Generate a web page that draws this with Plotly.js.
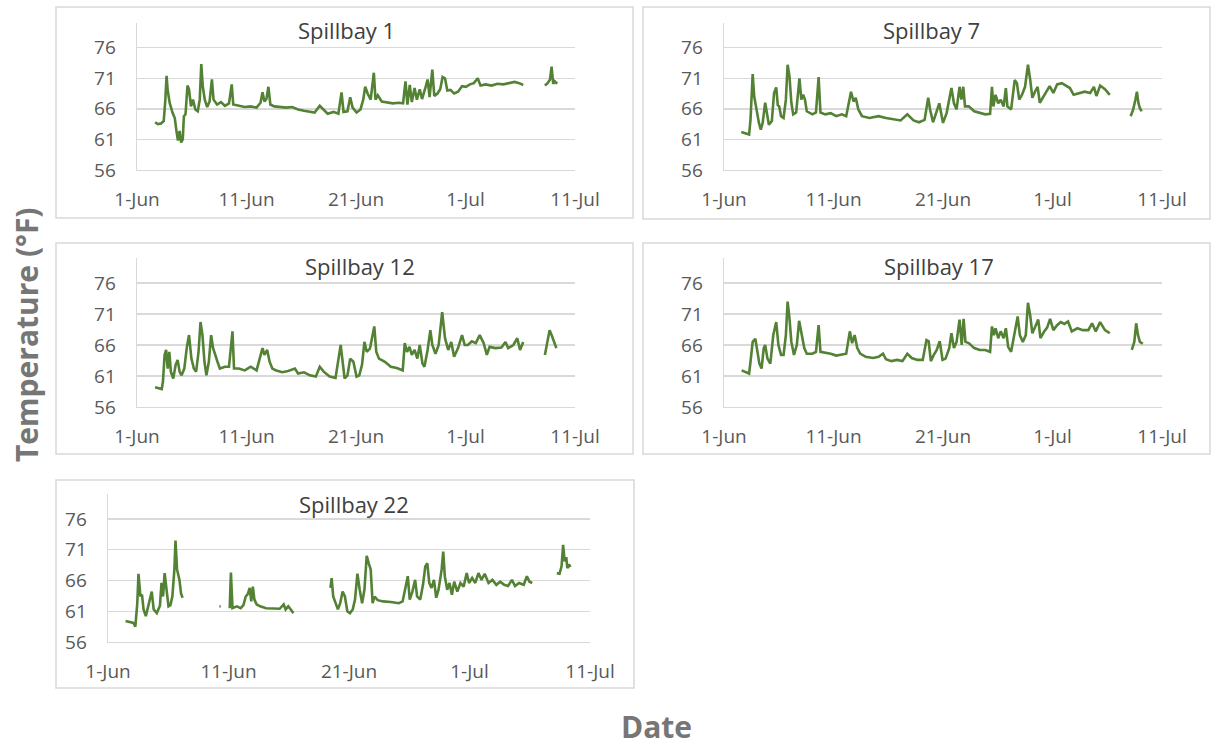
<!DOCTYPE html>
<html><head><meta charset="utf-8">
<script src="https://cdn.plot.ly/plotly-3.0.1.min.js"></script>
<style>html,body{margin:0;padding:0;background:#fff}#chart{width:1213px;height:749px}</style>
</head><body><div id="chart"></div>
<script>
// ---------- DATA (days since 1-Jun, temperature °F) ----------
const panelTitles = ["Spillbay 1", "Spillbay 7", "Spillbay 12", "Spillbay 17", "Spillbay 22"];
const xTickVals = [0, 10, 20, 30, 40];
const xTickText = ["1-Jun", "11-Jun", "21-Jun", "1-Jul", "11-Jul"];
const yTickVals = [56, 61, 66, 71, 76];
const yAxisTitle = "Temperature (°F)";
const xAxisTitle = "Date";

const sb1Day = [1.65,1.90,2.19,2.44,2.59,2.70,2.80,2.98,3.24,3.45,3.60,3.74,3.89,4.03,4.18,4.28,4.43,4.61,4.75,4.93,5.11,5.33,5.55,5.73,5.87,6.01,6.19,6.41,6.63,6.84,6.99,7.31,7.67,8.03,8.40,8.65,8.79,9.30,9.84,10.38,10.92,11.28,11.46,11.64,11.82,12.00,12.18,12.54,13.08,13.63,14.17,14.71,15.25,15.79,16.22,16.69,17.05,17.41,17.95,18.39,18.68,18.86,19.22,19.47,19.69,20.05,20.41,20.66,20.84,21.06,21.34,21.63,21.78,21.99,22.35,22.82,23.36,23.91,24.30,24.52,24.70,24.91,25.10,25.35,25.56,25.82,26.03,26.36,26.54,26.72,26.97,27.15,27.44,27.69,27.91,28.13,28.34,28.63,28.96,29.32,29.68,30.04,30.40,30.76,31.12,31.37,31.84,32.38,32.92,33.46,34.00,34.47,34.91,35.27,36.3,37.25,37.50,37.72,37.86,38.01,38.15,38.37];
const sb1Temp = [63.8,63.5,63.6,64.0,67.5,71.4,69.1,67.0,65.4,64.5,62.4,60.8,62.4,60.5,61.0,64.8,65.1,69.8,69.2,66.4,67.5,65.9,65.6,67.5,73.3,69.6,67.5,66.3,67.2,70.8,67.5,66.7,67.1,66.5,66.9,70.0,66.7,66.5,66.3,66.4,66.2,67.0,68.7,67.2,67.6,69.6,66.7,66.4,66.3,66.2,66.3,65.9,65.7,65.5,65.4,66.5,65.9,65.2,65.5,65.2,68.7,65.5,65.6,67.9,66.2,65.4,65.9,67.5,69.6,68.5,67.5,71.9,67.5,68.2,67.2,67.1,66.9,67.0,66.9,70.5,66.7,69.9,67.1,69.4,67.5,69.2,67.6,69.6,70.8,67.9,72.4,68.1,68.5,69.2,71.2,71.0,69.0,69.1,68.5,68.8,69.7,69.6,70.0,70.2,71.0,69.8,70.0,69.8,70.1,70.0,70.2,70.4,70.2,69.9,null,69.8,70.2,70.8,72.9,70.1,70.5,70.1];

const sb7Day = [1.58,1.95,2.29,2.42,2.62,2.76,2.96,3.19,3.36,3.53,3.76,3.90,4.10,4.37,4.57,4.77,4.91,5.04,5.21,5.44,5.65,5.81,5.98,6.15,6.32,6.59,6.76,6.89,7.06,7.23,7.39,7.49,7.56,8.07,8.40,8.64,8.81,9.24,9.75,10.25,10.76,11.16,11.43,11.60,11.83,12.03,12.27,12.60,13.28,14.12,14.79,15.46,16.13,16.74,17.31,17.81,18.32,18.65,18.82,19.09,19.33,19.66,20.00,20.33,20.77,21.00,21.24,21.51,21.68,21.85,22.01,22.35,22.85,23.36,23.86,24.30,24.47,24.60,24.80,25.04,25.27,25.54,25.74,25.88,26.22,26.55,26.75,26.96,27.22,27.49,27.76,27.96,28.16,28.40,28.64,28.84,29.10,29.41,29.74,30.08,30.42,30.85,31.26,31.59,31.93,32.43,32.94,33.44,33.78,34.01,34.35,34.79,35.23,36.2,37.14,37.37,37.57,37.71,37.85,37.98,38.15];
const sb7Temp = [62.2,62.0,61.8,64.2,71.7,68.0,65.9,63.7,62.6,63.7,67.0,65.4,63.4,64.0,68.6,69.5,66.6,66.4,64.8,64.5,67.5,73.2,71.3,67.0,65.1,65.4,68.6,71.0,67.5,68.3,67.5,65.9,65.6,65.1,65.4,71.2,65.4,65.1,65.3,64.8,65.1,64.8,67.5,68.8,67.2,67.8,65.9,64.8,64.5,64.8,64.5,64.3,64.1,65.1,64.1,63.8,64.2,67.8,65.9,63.8,65.1,66.9,63.7,65.3,69.4,66.9,65.9,69.6,67.5,69.6,66.4,66.4,65.6,65.3,65.1,65.2,69.6,66.4,68.3,66.9,67.5,66.4,69.4,66.4,65.9,70.7,70.2,67.5,68.3,69.6,73.2,70.8,67.8,68.8,69.6,67.0,67.8,68.8,69.7,68.6,70.0,70.2,69.7,69.4,68.3,68.6,68.8,68.6,69.6,68.1,69.8,69.2,68.3,null,64.8,65.9,67.5,68.8,66.9,66.1,65.6];

const sb12Day = [1.65,2.26,2.37,2.52,2.66,2.80,2.95,3.09,3.31,3.53,3.71,3.89,4.07,4.32,4.54,4.75,4.97,5.19,5.40,5.62,5.80,5.98,6.16,6.34,6.56,6.77,6.95,7.13,7.35,7.57,8.03,8.40,8.61,8.72,8.86,9.30,9.84,10.38,10.92,11.46,11.64,11.89,12.11,12.36,12.72,13.26,13.81,14.42,14.71,15.25,15.79,16.33,16.69,17.05,17.59,18.13,18.60,18.78,18.96,19.22,19.47,19.76,20.05,20.30,20.55,20.77,20.98,21.27,21.49,21.67,21.85,22.10,22.64,23.18,23.73,24.27,24.45,24.66,24.88,25.10,25.35,25.60,25.82,26.07,26.25,26.54,26.79,26.97,27.26,27.55,27.87,28.13,28.42,28.70,28.96,29.32,29.68,29.93,30.22,30.58,30.94,31.30,31.66,31.95,32.20,32.74,33.28,33.65,33.90,34.37,34.73,34.98,35.27,36.3,37.25,37.50,37.68,37.86,38.08,38.30];
const sb12Temp = [59.2,58.9,60.1,64.4,65.2,62.2,64.9,61.7,60.6,62.8,63.6,61.7,61.1,62.2,65.5,67.6,63.8,62.2,61.7,64.9,69.7,67.6,63.3,61.1,63.3,67.6,65.5,64.4,63.3,62.2,62.5,62.5,66.5,68.2,62.2,62.2,61.9,62.5,61.9,65.5,64.4,65.2,63.3,62.2,61.9,61.6,61.8,62.2,61.4,61.6,61.1,60.9,62.5,61.7,60.9,60.7,66.0,63.3,60.6,61.1,63.8,63.3,60.9,61.1,62.8,66.5,64.9,65.4,67.6,69.0,64.9,63.8,63.3,62.5,62.3,61.9,66.3,64.9,65.7,64.4,65.2,63.8,66.0,63.0,62.5,65.2,68.4,66.0,64.6,66.0,71.3,67.1,65.2,66.5,64.1,65.5,67.6,66.0,66.0,66.6,66.3,67.6,66.3,64.4,65.7,65.5,65.6,66.5,65.5,66.0,67.1,65.2,66.5,null,64.4,66.5,68.4,67.6,66.5,65.5];

const sb17Day = [1.61,2.02,2.29,2.42,2.62,2.86,3.02,3.23,3.43,3.63,3.76,3.97,4.23,4.50,4.77,4.97,5.21,5.44,5.65,5.81,5.98,6.15,6.39,6.65,6.86,6.99,7.13,7.33,7.56,8.07,8.40,8.64,8.81,9.24,9.75,10.25,10.76,11.16,11.49,11.70,11.93,12.17,12.44,12.94,13.61,14.12,14.52,14.79,15.29,15.80,16.30,16.74,17.14,17.65,18.15,18.49,18.69,18.89,19.16,19.43,19.70,19.96,20.23,20.57,20.77,21.00,21.24,21.51,21.71,21.88,22.05,22.35,22.85,23.36,23.86,24.30,24.47,24.64,24.80,25.04,25.27,25.54,25.74,25.95,26.22,26.55,26.82,27.02,27.29,27.56,27.76,27.96,28.16,28.43,28.70,28.90,29.24,29.51,29.78,30.08,30.42,30.75,31.09,31.42,31.76,32.27,32.77,33.27,33.61,33.95,34.35,34.79,35.23,36.2,37.24,37.47,37.64,37.81,37.98,38.25];
const sb17Temp = [61.9,61.6,61.4,63.3,66.5,67.0,64.9,63.0,62.2,65.5,66.0,63.8,63.0,67.6,69.7,66.0,64.4,64.4,67.6,73.0,70.3,66.5,64.4,66.0,69.9,68.7,67.6,65.5,64.6,64.6,64.9,69.2,64.9,64.8,64.6,64.3,64.4,64.6,68.2,66.3,67.6,65.5,64.6,64.1,63.9,64.1,64.6,63.7,63.4,63.6,63.4,64.6,63.9,63.6,63.6,66.8,66.6,63.4,64.4,65.2,66.6,63.6,63.8,65.5,67.9,65.5,66.5,70.1,66.0,70.2,66.5,66.3,65.5,65.2,65.2,64.9,69.0,67.6,68.7,67.1,68.2,67.1,68.7,65.7,64.9,68.2,70.6,67.6,66.5,67.6,72.8,70.8,67.9,69.0,70.1,67.1,68.2,68.8,70.2,68.4,69.2,69.7,69.4,69.8,68.2,68.7,68.4,68.4,69.5,68.2,69.7,68.4,67.9,null,65.2,66.5,69.5,67.6,66.5,66.2];

const sb22Day = [1.46,2.11,2.27,2.43,2.53,2.69,2.82,2.95,3.14,3.34,3.50,3.63,3.79,4.05,4.31,4.44,4.57,4.70,4.86,5.02,5.18,5.34,5.51,5.60,5.73,5.93,6.06,6.19,7.5,9.25,9.35,9.6,10.10,10.20,10.33,10.69,11.01,11.24,11.43,11.60,11.76,11.89,12.02,12.15,12.34,12.63,13.12,13.77,14.25,14.58,14.74,14.96,15.22,15.39,17.0,18.46,18.56,18.69,18.88,19.08,19.27,19.47,19.66,19.86,20.08,20.31,20.50,20.70,20.89,21.09,21.28,21.47,21.64,21.80,21.96,22.12,22.38,22.84,23.48,24.13,24.45,24.71,24.88,25.04,25.26,25.49,25.65,25.91,26.14,26.33,26.50,26.66,26.85,27.05,27.24,27.43,27.69,27.82,27.95,28.15,28.34,28.54,28.73,28.99,29.25,29.51,29.77,29.96,30.22,30.48,30.74,31.00,31.26,31.58,31.90,32.23,32.55,32.88,33.20,33.52,33.78,34.11,34.50,34.76,34.98,35.21,36.3,37.25,37.47,37.64,37.77,37.90,38.03,38.12,38.25,38.38];
const sb22Temp = [59.4,59.1,58.5,62.3,67.1,63.4,63.7,61.3,60.2,61.9,63.4,64.2,61.3,60.7,61.9,65.6,63.4,67.2,64.5,61.8,62.0,63.4,67.8,72.5,67.8,66.1,63.9,63.2,null,61.8,61.8,null,61.5,67.3,61.5,61.8,61.5,62.0,63.4,63.8,64.8,62.6,65.0,62.9,62.1,61.8,61.5,61.4,61.4,62.1,61.3,61.8,61.0,60.7,null,64.8,66.4,63.4,62.3,61.3,62.3,64.2,63.4,61.0,60.7,61.3,62.9,67.1,64.5,62.3,64.5,70.0,68.8,67.8,62.3,63.4,62.8,62.6,62.5,62.3,62.6,64.8,66.7,62.9,64.2,66.1,63.4,62.9,65.3,68.3,68.8,65.6,64.8,66.1,63.2,64.5,67.8,70.7,66.7,64.5,65.6,63.7,65.8,64.2,65.6,65.0,67.2,65.6,66.4,65.6,67.2,66.1,67.1,65.6,66.1,65.3,65.8,65.3,65.1,66.1,65.1,65.6,65.3,66.7,65.8,65.6,null,67.2,67.1,68.3,71.8,69.1,69.8,68.0,68.6,68.2];

const seriesDays = [sb1Day, sb7Day, sb12Day, sb17Day, sb22Day];
const seriesTemps = [sb1Temp, sb7Temp, sb12Temp, sb17Temp, sb22Temp];

// ---------- LAYOUT (pixel geometry of the picture) ----------
const W = 1213, H = 749;
const px = v => v / W, py = v => 1 - v / H;
// plot areas: [left, right, top(=80°F), bottom(=56°F)] in pixels
const plotBoxes = [
  [137, 575, 23.2, 170],
  [724, 1162, 23.2, 170],
  [137, 575, 258.2, 407],
  [724, 1162, 258.2, 407],
  [108, 590, 494.4, 642]
];
// outer frames: [left, right, top, bottom]
const frames = [
  [56, 633, 7, 218],
  [643, 1210, 7, 219],
  [56, 633, 243, 454],
  [643, 1210, 243, 454],
  [56, 634, 480, 688]
];
const titlePos = [[347, 30], [932, 30], [360, 266], [939, 266], [354, 504]];

const FONT = "Open Sans, Liberation Sans, sans-serif";
const LINE = "#548235";
const GRID = "#d9d9d9";

const data = [];
const layout = {
  width: W, height: H,
  margin: {l: 0, r: 0, t: 0, b: 0},
  paper_bgcolor: "#fff", plot_bgcolor: "rgba(0,0,0,0)",
  showlegend: false,
  shapes: [], annotations: []
};

for (let i = 0; i < 5; i++) {
  const n = i === 0 ? "" : String(i + 1);
  const b = plotBoxes[i];
  data.push({
    type: "scatter", mode: "lines",
    x: seriesDays[i], y: seriesTemps[i],
    xaxis: "x" + n, yaxis: "y" + n,
    line: {color: LINE, width: 2.6},
    connectgaps: false, hoverinfo: "skip"
  });
  layout["xaxis" + n] = {
    domain: [px(b[0]), px(b[1])], anchor: "y" + n,
    range: [-0.0001, 40.0001], tickmode: "array",
    tickvals: xTickVals, ticktext: xTickText,
    showgrid: false, zeroline: false, ticks: "",
    showline: true, linecolor: GRID, linewidth: 1.4,
    tickfont: {family: FONT, size: 19, color: "#595959"},
    ticklabelstandoff: 12, fixedrange: true
  };
  layout["yaxis" + n] = {
    domain: [py(b[3]), py(b[2])], anchor: "x" + n,
    range: [56, 80], tickmode: "array", tickvals: yTickVals,
    showgrid: true, gridcolor: GRID, gridwidth: 1.4,
    zeroline: false, ticks: "",
    showline: true, linecolor: GRID, linewidth: 1.4,
    tickfont: {family: FONT, size: 19, color: "#595959"},
    ticklabelstandoff: 16, fixedrange: true
  };
  const f = frames[i];
  layout.shapes.push({
    type: "rect", xref: "paper", yref: "paper",
    x0: px(f[0]), x1: px(f[1]), y0: py(f[3]), y1: py(f[2]),
    line: {color: GRID, width: 1.5}, fillcolor: "rgba(0,0,0,0)", layer: "below"
  });
  layout.annotations.push({
    xref: "paper", yref: "paper",
    x: px(titlePos[i][0]), y: py(titlePos[i][1]),
    xanchor: "center", yanchor: "middle", showarrow: false,
    text: panelTitles[i],
    font: {family: FONT, size: 22, color: "#404040"}
  });
}
layout.annotations.push({
  xref: "paper", yref: "paper", x: px(26), y: py(335),
  xanchor: "center", yanchor: "middle", showarrow: false, textangle: -90,
  text: "<b>" + yAxisTitle + "</b>",
  font: {family: FONT, size: 30, color: "#767676"}
});
layout.annotations.push({
  xref: "paper", yref: "paper", x: px(656), y: 0,
  xanchor: "center", yanchor: "bottom", showarrow: false,
  text: "<b>" + xAxisTitle + "</b>",
  font: {family: FONT, size: 30, color: "#767676"}
});

Plotly.newPlot("chart", data, layout, {staticPlot: true, displayModeBar: false});
</script>
</body></html>
